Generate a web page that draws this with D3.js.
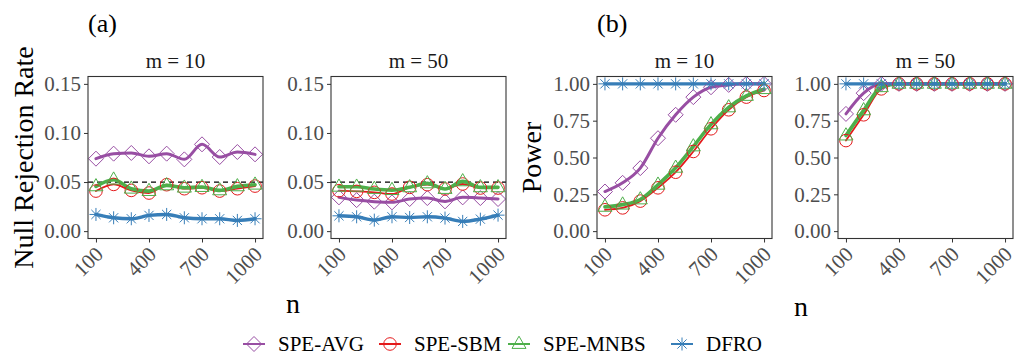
<!DOCTYPE html>
<html>
<head>
<meta charset="utf-8">
<script src="https://cdn.jsdelivr.net/npm/d3@7"></script>
<style>
  html, body { margin: 0; padding: 0; background: #fff; }
  svg { display: block; }
  svg text { font-family: "Liberation Serif", "Times New Roman", serif; }
</style>
</head>
<body>
<div id="chart"></div>
<script>
// sample sizes on the x axis
const nVals = [100, 200, 300, 400, 500, 600, 700, 800, 900, 1000]
const xTicks = [100, 400, 700, 1000]

const methods = ['SPE-AVG', 'SPE-SBM', 'SPE-MNBS', 'DFRO']
const methodColors = ['#984EA3', '#E41A1C', '#4DAF4A', '#377EB8']
const methodShapes = ['diamond', 'circle', 'triangle', 'asterisk']
const lineWidths = [3, 1.8, 3.6, 3.4]

// (a) null rejection rate, m = 10
const nullM10Avg = [0.0738, 0.0789, 0.0796, 0.0762, 0.0789, 0.0731, 0.0884, 0.0755, 0.0806, 0.0782]
const nullM10Sbm = [0.0408, 0.0476, 0.0415, 0.0388, 0.0473, 0.0432, 0.0442, 0.0408, 0.0432, 0.0459]
const nullM10Mnbs = [0.0456, 0.0524, 0.0432, 0.0408, 0.0466, 0.0442, 0.0449, 0.0415, 0.0456, 0.0473]
const nullM10Dfro = [0.0170, 0.0136, 0.0126, 0.0160, 0.0170, 0.0136, 0.0126, 0.0126, 0.0109, 0.0126]

// (a) null rejection rate, m = 50
const nullM50Avg = [0.0344, 0.0316, 0.0300, 0.0293, 0.0327, 0.0337, 0.0303, 0.0344, 0.0337, 0.0327]
const nullM50Sbm = [0.0412, 0.0405, 0.0395, 0.0378, 0.0446, 0.0473, 0.0429, 0.0480, 0.0439, 0.0439]
const nullM50Mnbs = [0.0452, 0.0452, 0.0429, 0.0418, 0.0446, 0.0486, 0.0429, 0.0507, 0.0446, 0.0446]
const nullM50Dfro = [0.0156, 0.0146, 0.0112, 0.0146, 0.0139, 0.0146, 0.0133, 0.0099, 0.0122, 0.0163]

// (b) power, m = 10
const powM10Avg = [0.269, 0.328, 0.428, 0.631, 0.790, 0.910, 0.977, 0.993, 1.0, 1.0]
const powM10Sbm = [0.145, 0.158, 0.204, 0.294, 0.400, 0.541, 0.695, 0.824, 0.910, 0.955]
const powM10Mnbs = [0.165, 0.180, 0.215, 0.315, 0.430, 0.575, 0.725, 0.840, 0.918, 0.964]
const powM10Dfro = [1.0, 1.0, 1.0, 1.0, 1.0, 1.0, 1.0, 1.0, 1.0, 1.0]

// (b) power, m = 50
const powM50Avg = [0.796, 0.937, 1.0, 1.0, 1.0, 1.0, 1.0, 1.0, 1.0, 1.0]
const powM50Sbm = [0.615, 0.790, 0.966, 1.0, 1.0, 1.0, 1.0, 1.0, 1.0, 1.0]
const powM50Mnbs = [0.649, 0.820, 0.977, 1.0, 1.0, 1.0, 1.0, 1.0, 1.0, 1.0]
const powM50Dfro = [1.0, 1.0, 1.0, 1.0, 1.0, 1.0, 1.0, 1.0, 1.0, 1.0]

const nullTicks = [0.00, 0.05, 0.10, 0.15]
const powTicks = [0.00, 0.25, 0.50, 0.75, 1.00]

const width = 1018
const height = 356

const svg = d3.select('#chart').append('svg')
  .attr('width', width)
  .attr('height', height)

const panelTop = 76.5
const panelBottom = 238.5
const pw = 175

const panels = [
  { x0: 88, title: 'm = 10', series: [nullM10Avg, nullM10Sbm, nullM10Mnbs, nullM10Dfro], kind: 'null' },
  { x0: 331, title: 'm = 50', series: [nullM50Avg, nullM50Sbm, nullM50Mnbs, nullM50Dfro], kind: 'null' },
  { x0: 597, title: 'm = 10', series: [powM10Avg, powM10Sbm, powM10Mnbs, powM10Dfro], kind: 'power' },
  { x0: 838, title: 'm = 50', series: [powM50Avg, powM50Sbm, powM50Mnbs, powM50Dfro], kind: 'power' },
]

// marker paths, centred on 0,0
function shapePath(shape) {
  if (shape === 'diamond') return 'M0,-7.5L7.5,0L0,7.5L-7.5,0Z'
  if (shape === 'circle') return 'M6.3,0A6.3,6.3 0 1,1 -6.3,0A6.3,6.3 0 1,1 6.3,0Z'
  if (shape === 'triangle') return 'M0,-7.8L7,4.4L-7,4.4Z'
  // asterisk: plus + cross
  return 'M-6.5,0L6.5,0M0,-6.5L0,6.5M-4.6,-4.6L4.6,4.6M-4.6,4.6L4.6,-4.6'
}

panels.forEach((p) => {
  const x = d3.scaleLinear().domain([55, 1045]).range([p.x0, p.x0 + pw])
  const yDomain = p.kind === 'null' ? [-0.0075, 0.1575] : [-0.05, 1.05]
  const y = d3.scaleLinear().domain(yDomain).range([panelBottom, panelTop])
  const ticks = p.kind === 'null' ? nullTicks : powTicks
  const fmt = d3.format('.2f')

  const g = svg.append('g')

  // strip title
  g.append('text')
    .attr('x', p.x0 + pw / 2)
    .attr('y', 68)
    .attr('text-anchor', 'middle')
    .attr('font-size', '21px')
    .attr('fill', '#1a1a1a')
    .text(p.title)

  // y axis
  const yAxis = d3.axisLeft(y).tickValues(ticks).tickFormat(fmt).tickSize(4).tickPadding(3)
  const ya = g.append('g').attr('transform', `translate(${p.x0},0)`).call(yAxis)
  ya.select('.domain').remove()
  ya.selectAll('line').attr('stroke', '#333').attr('stroke-width', 1)
  ya.selectAll('text')
    .attr('font-size', '21px')
    .attr('fill', '#4d4d4d')

  // x axis with rotated labels
  const xAxis = d3.axisBottom(x).tickValues(xTicks).tickSize(4).tickFormat(d3.format('d'))
  const xa = g.append('g').attr('transform', `translate(0,${panelBottom})`).call(xAxis)
  xa.select('.domain').remove()
  xa.selectAll('line').attr('stroke', '#333').attr('stroke-width', 1)
  xa.selectAll('text')
    .attr('font-size', '21px')
    .attr('fill', '#4d4d4d')
    .attr('dy', null)
    .attr('y', null)
    .attr('text-anchor', 'end')
    .attr('transform', 'translate(8,17) rotate(-45)')

  // dashed nominal level
  if (p.kind === 'null') {
    g.append('line')
      .attr('x1', p.x0).attr('x2', p.x0 + pw)
      .attr('y1', y(0.05)).attr('y2', y(0.05))
      .attr('stroke', '#000')
      .attr('stroke-width', 1.3)
      .attr('stroke-dasharray', '5,4')
  }

  const line = d3.line()
    .x((d, i) => x(nVals[i]))
    .y((d) => y(d))
    .curve(d3.curveMonotoneX)

  // lines
  p.series.forEach((vals, k) => {
    g.append('path')
      .attr('d', line(vals))
      .attr('fill', 'none')
      .attr('stroke', methodColors[k])
      .attr('stroke-width', lineWidths[k])
      .attr('stroke-linejoin', 'round')
      .attr('stroke-linecap', 'round')
  })

  // markers
  p.series.forEach((vals, k) => {
    g.append('g').selectAll('path')
      .data(vals)
      .enter()
      .append('path')
      .attr('transform', (d, i) => `translate(${x(nVals[i])},${y(d)})`)
      .attr('d', shapePath(methodShapes[k]))
      .attr('fill', 'none')
      .attr('stroke', methodColors[k])
      .attr('stroke-width', 1)
  })

  // panel border
  g.append('rect')
    .attr('x', p.x0).attr('y', panelTop)
    .attr('width', pw).attr('height', panelBottom - panelTop)
    .attr('fill', 'none')
    .attr('stroke', '#333')
    .attr('stroke-width', 1.1)
})

// panel tags
svg.append('text').attr('x', 88).attr('y', 32).attr('font-size', '26px').text('(a)')
svg.append('text').attr('x', 597).attr('y', 32).attr('font-size', '26px').text('(b)')

// axis titles
svg.append('text')
  .attr('transform', 'translate(33,157.5) rotate(-90)')
  .attr('text-anchor', 'middle')
  .attr('font-size', '28px')
  .text('Null Rejection Rate')

svg.append('text')
  .attr('transform', 'translate(541,157.5) rotate(-90)')
  .attr('text-anchor', 'middle')
  .attr('font-size', '28px')
  .text('Power')

svg.append('text').attr('x', 293).attr('y', 313).attr('text-anchor', 'middle')
  .attr('font-size', '28px').text('n')
svg.append('text').attr('x', 801).attr('y', 316).attr('text-anchor', 'middle')
  .attr('font-size', '28px').text('n')

// legend
const legendX = [243, 379, 508, 671]
const legendY = 344
const leg = svg.append('g')
methods.forEach((m, k) => {
  const item = leg.append('g').attr('transform', `translate(${legendX[k]},${legendY})`)
  item.append('line')
    .attr('x1', 0).attr('x2', 22)
    .attr('stroke', methodColors[k])
    .attr('stroke-width', 2)
  item.append('path')
    .attr('transform', 'translate(11,0)')
    .attr('d', shapePath(methodShapes[k]))
    .attr('fill', 'none')
    .attr('stroke', methodColors[k])
    .attr('stroke-width', 1)
  item.append('text')
    .attr('x', 35)
    .attr('y', 7)
    .attr('font-size', '21px')
    .attr('fill', '#000')
    .text(m)
})
</script>
</body>
</html>
